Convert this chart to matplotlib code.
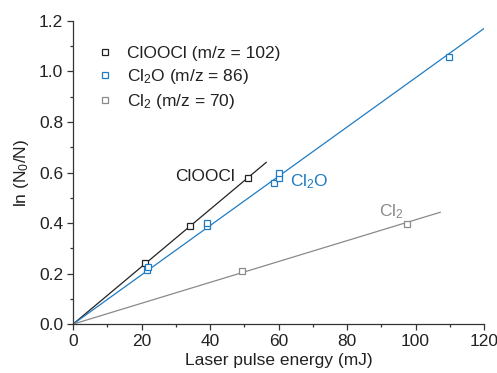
import matplotlib
matplotlib.use("Agg")
import matplotlib.pyplot as plt
import numpy as np
from matplotlib.ticker import MultipleLocator

plt.rcParams['font.family'] = ['Liberation Sans', 'DejaVu Sans']
plt.rcParams['mathtext.fontset'] = 'custom'
plt.rcParams['mathtext.rm'] = 'Liberation Sans'
plt.rcParams['mathtext.it'] = 'Liberation Sans:italic'
plt.rcParams['mathtext.default'] = 'regular'

# data
cloocl_x = [21.0, 34.0, 51.0]
cloocl_y = [0.24, 0.387, 0.58]
cl2o_x = [21.7, 21.8, 39.1, 39.2, 58.7, 60.0, 60.0, 109.8]
cl2o_y = [0.215, 0.228, 0.39, 0.40, 0.557, 0.58, 0.597, 1.058]
cl2_x = [49.3, 97.5]
cl2_y = [0.212, 0.398]

fit_slopes = [0.01135, 0.00975, 0.00413]
fit_xmax = [56.4, 120.0, 107.2]

colors = ['#222222', '#1f7cc4', '#8a8a8a']
legend_labels = ['ClOOCl (m/z = 102)', 'Cl$_2$O (m/z = 86)', 'Cl$_2$ (m/z = 70)']

FS = 12.5
fig = plt.figure(figsize=(4.97, 3.73), dpi=100)
ax = fig.add_axes([0.147, 0.131, 0.827, 0.813])

series = [(cloocl_x, cloocl_y), (cl2o_x, cl2o_y), (cl2_x, cl2_y)]
handles = []
for (xs, ys), c, s, xm, lab in zip(series, colors, fit_slopes, fit_xmax, legend_labels):
    xx = np.array([0.0, xm])
    ax.plot(xx, s * xx, color=c, lw=0.9, zorder=2)
    h, = ax.plot(xs, ys, ls='none', marker='s', ms=4.5, mfc='white', mec=c, mew=0.9,
                 label=lab, zorder=3)
    handles.append(h)

ax.text(47.3, 0.585, 'ClOOCl', color='#222222', fontsize=FS, ha='right', va='center')
ax.text(63.3, 0.562, 'Cl$_2$O', color='#1f7cc4', fontsize=FS, ha='left', va='center')
ax.text(89.3, 0.445, 'Cl$_2$', color='#8a8a8a', fontsize=FS, ha='left', va='center')

leg = ax.legend(handles=handles, loc='upper left', bbox_to_anchor=(0.035, 0.94),
                frameon=False, fontsize=FS, handlelength=1.2, handletextpad=0.65,
                labelspacing=0.33, borderaxespad=0)
for t in leg.get_texts():
    t.set_color('#222222')

ax.set_xlim(0, 120)
ax.set_ylim(0, 1.2)
ax.xaxis.set_major_locator(MultipleLocator(20))
ax.xaxis.set_minor_locator(MultipleLocator(10))
ax.yaxis.set_major_locator(MultipleLocator(0.2))
ax.yaxis.set_minor_locator(MultipleLocator(0.1))
ax.yaxis.set_major_formatter(plt.FuncFormatter(lambda v, p: f'{v:.1f}'))
for sp in ['top', 'right']:
    ax.spines[sp].set_visible(False)
for sp in ['left', 'bottom']:
    ax.spines[sp].set_linewidth(0.9)
    ax.spines[sp].set_color('#333333')
ax.tick_params(which='major', direction='out', length=4, width=0.9, labelsize=FS,
               colors='#333333', labelcolor='#222222', pad=3)
ax.tick_params(which='minor', direction='out', length=2.5, width=0.9, colors='#333333')

ax.set_xlabel('Laser pulse energy (mJ)', fontsize=FS, color='#222222', labelpad=3)
ax.set_ylabel('ln (N$_0$/N)', fontsize=FS, color='#222222', labelpad=6)

fig.savefig('out.png', dpi=100)
